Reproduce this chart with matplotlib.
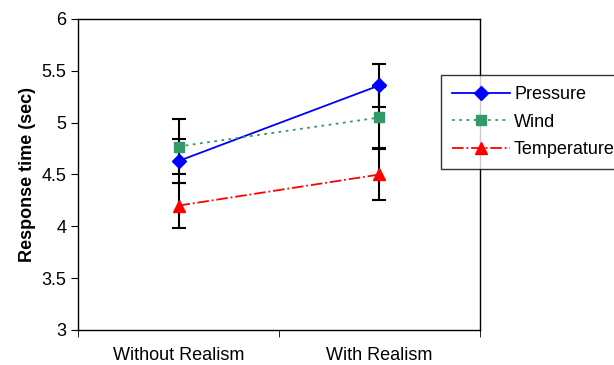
import numpy as np
import matplotlib.pyplot as plt

plt.rcParams['font.family'] = ['Liberation Sans', 'DejaVu Sans']

# data
categories = ['Without Realism', 'With Realism']
pressure = [4.63, 5.36]
pressure_err = [0.21, 0.21]
wind = [4.77, 5.05]
wind_err = [0.27, 0.29]
temperature = [4.20, 4.50]
temperature_err = [0.22, 0.25]

x = np.arange(1, len(categories) + 1)

fig = plt.figure(figsize=(6.14, 3.65), dpi=100)
ax = fig.add_axes([78/614, 35/365, 402/614, 311/365])

series = [
    ('Pressure', pressure, pressure_err, 'blue', '-', 'D', 7),
    ('Wind', wind, wind_err, '#339966', (0, (1.5, 2.5)), 's', 6.5),
    ('Temperature', temperature, temperature_err, 'red', '-.', '^', 8),
]

handles = []
for name, vals, err, col, ls, mk, ms in series:
    ax.errorbar(x, vals, yerr=err, fmt='none', ecolor='black',
                elinewidth=1.5, capsize=5, capthick=1.5, zorder=2)
    h, = ax.plot(x, vals, color=col, linestyle=ls, linewidth=1.3,
                 marker=mk, markersize=ms, markerfacecolor=col,
                 markeredgecolor=col, label=name, zorder=3)
    handles.append(h)

ax.set_xlim(0.5, 2.5)
ax.set_ylim(3, 6)
ax.set_yticks(np.arange(3, 6.01, 0.5))
ax.set_yticklabels(['3', '3.5', '4', '4.5', '5', '5.5', '6'])
ax.set_xticks(x)
ax.set_xticklabels(categories)
ax.tick_params(axis='x', which='major', length=0, pad=12, labelsize=13)
ax.set_xticks([0.5, 1.5, 2.5], minor=True)
ax.tick_params(axis='x', which='minor', length=5, direction='out')
ax.tick_params(axis='y', length=5, direction='out', labelsize=13)
ax.set_ylabel('Response time (sec)', fontsize=13, fontweight='bold', labelpad=4)

for s in ax.spines.values():
    s.set_linewidth(1.0)
    s.set_color('black')

leg = fig.legend(handles=handles, loc='upper left',
                 bbox_to_anchor=(441/614, 1 - 75/365),
                 fontsize=13, frameon=True, fancybox=False,
                 handlelength=3.2, handletextpad=0.25, borderpad=0.6,
                 labelspacing=0.6, borderaxespad=0)
leg.get_frame().set_edgecolor('black')
leg.get_frame().set_linewidth(1.0)

fig.savefig('out.png', dpi=100)
